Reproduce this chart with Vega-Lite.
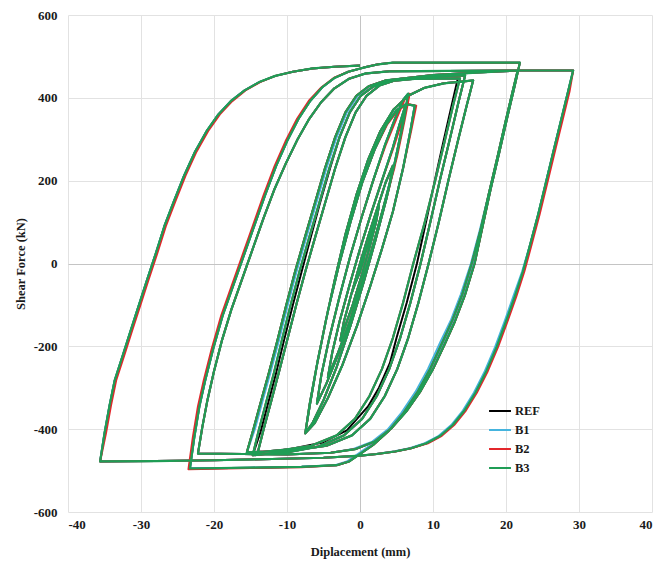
{
"$schema":"https://vega.github.io/schema/vega-lite/v6.json",
"width":584,"height":497,
"autosize":{"type":"none"},
"padding":{"left":68,"top":15,"right":7,"bottom":53},
"background":"white",
"config":{"view":{"stroke":null},"font":"Liberation Serif",
"axis":{"labelFont":"Liberation Serif","labelFontWeight":"bold","labelFontSize":13,"labelColor":"#1a1a1a","titleFont":"Liberation Serif","titleFontWeight":"bold","titleFontSize":12.5,"titleColor":"#1a1a1a","domain":false,"ticks":false,"grid":true,"gridColor":{"condition":{"test":"datum.value === 0","value":"#c4c4c4"},"value":"#e2e2e2"},"gridWidth":1,"labelExpr":"datum.value + ''"},
"legend":{"labelFont":"Liberation Serif","labelFontWeight":"bold","labelFontSize":12.5,"labelColor":"#1a1a1a"}},
"encoding":{
"x":{"field":"x","type":"quantitative","scale":{"domain":[-40,40],"nice":false},"axis":{"title":"Diplacement (mm)","values":[-40,-30,-20,-10,0,10,20,30,40],"labelPadding":6,"titlePadding":14}},
"y":{"field":"y","type":"quantitative","scale":{"domain":[-600,600],"nice":false},"axis":{"title":"Shear Force (kN)","values":[-600,-400,-200,0,200,400,600],"labelPadding":11,"titlePadding":6}},
"order":{"value":null}
},
"layer":[
{"data":{"name":"REF"},"mark":{"type":"line","strokeWidth":2,"strokeJoin":"round"},
"encoding":{"color":{"datum":"REF","type":"nominal","scale":{"domain":["REF","B1","B2","B3"],"range":["#000000","#45b4de","#e3262b","#1f9d55"]},"legend":{"title":null,"orient":"none","legendX":420,"legendY":384,"symbolType":"stroke","symbolSize":480,"symbolStrokeWidth":2,"padding":0,"rowPadding":0,"labelOffset":3}}}},
{"data":{"name":"B1"},"mark":{"type":"line","strokeWidth":2,"strokeJoin":"round"},"encoding":{"color":{"datum":"B1","type":"nominal"}}},
{"data":{"name":"B2"},"mark":{"type":"line","strokeWidth":2,"strokeJoin":"round"},"encoding":{"color":{"datum":"B2","type":"nominal"}}},
{"data":{"name":"B3"},"mark":{"type":"line","strokeWidth":2.2,"strokeJoin":"round"},"encoding":{"color":{"datum":"B3","type":"nominal"}}}
],
"datasets":{
"B3":[{"x":0,"y":0},{"x":0.5,"y":25},{"x":0.8,"y":35},{"x":0.5,"y":10},{"x":0,"y":-20},{"x":-0.7,"y":-50},{"x":-1.1,"y":-70},{"x":-0.7,"y":-45},{"x":0,"y":-10},{"x":0.7,"y":25},{"x":1.2,"y":50},{"x":1.9,"y":100},{"x":2.6,"y":140},{"x":2.2,"y":100},{"x":1.4,"y":45},{"x":0.3,"y":-25},{"x":-1,"y":-100},{"x":-2,"y":-150},{"x":-2.7,"y":-186},{"x":-2.2,"y":-140},{"x":-1.2,"y":-75},{"x":0,"y":0},{"x":1.2,"y":70},{"x":2.4,"y":135},{"x":3.5,"y":195},{"x":4.5,"y":236},{"x":4,"y":185},{"x":3,"y":115},{"x":1.6,"y":30},{"x":0.2,"y":-55},{"x":-1.4,"y":-140},{"x":-3,"y":-215},{"x":-4.4,"y":-275},{"x":-3.8,"y":-215},{"x":-2.8,"y":-140},{"x":-1.4,"y":-50},{"x":0,"y":35},{"x":1.5,"y":120},{"x":3,"y":200},{"x":4.5,"y":280},{"x":5.4,"y":335},{"x":6.2,"y":381},{"x":5.6,"y":315},{"x":4.6,"y":230},{"x":3.2,"y":135},{"x":1.8,"y":45},{"x":0.3,"y":-45},{"x":-1.3,"y":-135},{"x":-3,"y":-220},{"x":-4.6,"y":-290},{"x":-5.9,"y":-338},{"x":-5.3,"y":-270},{"x":-4.2,"y":-180},{"x":-2.8,"y":-80},{"x":-1.3,"y":20},{"x":0.2,"y":110},{"x":1.8,"y":200},{"x":3.4,"y":285},{"x":4.8,"y":350},{"x":5.9,"y":395},{"x":6.6,"y":410},{"x":6,"y":345},{"x":5,"y":260},{"x":3.6,"y":155},{"x":2.1,"y":55},{"x":0.5,"y":-45},{"x":-1.3,"y":-150},{"x":-3.2,"y":-250},{"x":-5,"y":-330},{"x":-6.5,"y":-385},{"x":-7.5,"y":-410},{"x":-6.9,"y":-340},{"x":-5.8,"y":-235},{"x":-4.4,"y":-115},{"x":-2.9,"y":-5},{"x":-1.3,"y":100},{"x":0.3,"y":195},{"x":2,"y":275},{"x":3.6,"y":335},{"x":5,"y":370},{"x":6.3,"y":385},{"x":7.5,"y":381},{"x":6.9,"y":320},{"x":5.9,"y":230},{"x":4.5,"y":125},{"x":3,"y":35},{"x":1.4,"y":-55},{"x":-0.4,"y":-150},{"x":-2.4,"y":-245},{"x":-4.4,"y":-325},{"x":-6.2,"y":-385},{"x":-7.5,"y":-410},
{"x":-6.9,"y":-345},{"x":-5.9,"y":-245},{"x":-4.7,"y":-140},{"x":-3.4,"y":-35},{"x":-2,"y":70},{"x":-0.5,"y":165},{"x":1.1,"y":250},{"x":2.8,"y":320},{"x":4.6,"y":372},{"x":6.6,"y":405},{"x":8.8,"y":424},{"x":11.5,"y":435},{"x":15.5,"y":442},
{"x":14.6,"y":380},{"x":13.4,"y":295},{"x":12.1,"y":200},{"x":10.8,"y":100},{"x":9.4,"y":0},{"x":8,"y":-95},{"x":6.6,"y":-180},{"x":5.1,"y":-255},{"x":3.4,"y":-320},{"x":1.4,"y":-375},{"x":-1.1,"y":-415},{"x":-4.6,"y":-440},{"x":-9,"y":-451},{"x":-15.5,"y":-456},
{"x":-14.6,"y":-400},{"x":-13.6,"y":-335},{"x":-12.5,"y":-265},{"x":-11.3,"y":-185},{"x":-10.1,"y":-100},{"x":-8.9,"y":-20},{"x":-7.6,"y":60},{"x":-6.2,"y":145},{"x":-4.8,"y":230},{"x":-3.4,"y":305},{"x":-2,"y":365},{"x":-0.5,"y":405},{"x":1.2,"y":428},{"x":3.5,"y":442},{"x":7,"y":449},{"x":10.5,"y":452},{"x":14.4,"y":454},
{"x":13.5,"y":390},{"x":12.3,"y":300},{"x":11,"y":205},{"x":9.7,"y":105},{"x":8.3,"y":0},{"x":6.9,"y":-95},{"x":5.5,"y":-180},{"x":4,"y":-255},{"x":2.3,"y":-320},{"x":0.3,"y":-375},{"x":-2.2,"y":-415},{"x":-5.7,"y":-442},{"x":-10,"y":-456},{"x":-14.7,"y":-463},
{"x":-13.9,"y":-405},{"x":-12.9,"y":-338},{"x":-11.8,"y":-265},{"x":-10.7,"y":-185},{"x":-9.5,"y":-100},{"x":-8.3,"y":-20},{"x":-7,"y":60},{"x":-5.6,"y":145},{"x":-4.2,"y":230},{"x":-2.8,"y":305},{"x":-1.4,"y":365},{"x":0.1,"y":405},{"x":1.8,"y":427},{"x":4,"y":440},{"x":7.5,"y":446},{"x":13.7,"y":447},
{"x":12.8,"y":385},{"x":11.6,"y":295},{"x":10.3,"y":200},{"x":8.8,"y":95},{"x":7.3,"y":0},{"x":5.9,"y":-95},{"x":4.5,"y":-180},{"x":3,"y":-255},{"x":1.3,"y":-320},{"x":-0.7,"y":-375},{"x":-3.2,"y":-415},{"x":-6.7,"y":-440},{"x":-10.5,"y":-450},{"x":-14,"y":-456},
{"x":-13.2,"y":-400},{"x":-12.2,"y":-335},{"x":-11.1,"y":-262},{"x":-9.9,"y":-180},{"x":-8.7,"y":-98},{"x":-7.5,"y":-20},{"x":-6.2,"y":60},{"x":-4.8,"y":145},{"x":-3.4,"y":230},{"x":-2,"y":305},{"x":-0.6,"y":365},{"x":0.9,"y":405},{"x":2.7,"y":430},{"x":5.5,"y":446},{"x":10,"y":455},{"x":16,"y":461},{"x":21.6,"y":466},
{"x":20.9,"y":415},{"x":19.9,"y":340},{"x":18.8,"y":255},{"x":17.6,"y":165},{"x":16.5,"y":80},{"x":15.3,"y":0},{"x":14,"y":-75},{"x":12.7,"y":-135},{"x":11.3,"y":-190},{"x":9.6,"y":-255},{"x":7.9,"y":-310},{"x":6,"y":-360},{"x":4,"y":-403},{"x":1.8,"y":-438},{"x":0,"y":-460},{"x":-1.5,"y":-478},{"x":-3.2,"y":-487},{"x":-8,"y":-491},{"x":-15,"y":-493},{"x":-23.3,"y":-495},
{"x":-22.7,"y":-420},{"x":-22,"y":-345},{"x":-21.2,"y":-282},{"x":-20.1,"y":-205},{"x":-18.8,"y":-125},{"x":-17.4,"y":-55},{"x":-16,"y":15},{"x":-14.5,"y":90},{"x":-13,"y":165},{"x":-11.5,"y":235},{"x":-10,"y":295},{"x":-8.4,"y":350},{"x":-6.8,"y":393},{"x":-5.2,"y":425},{"x":-3.5,"y":448},{"x":-1.6,"y":463},{"x":0.5,"y":473},{"x":2.5,"y":481},{"x":4.5,"y":485},{"x":12,"y":485},{"x":21.9,"y":485},
{"x":21.2,"y":430},{"x":20.2,"y":355},{"x":19.1,"y":270},{"x":17.9,"y":180},{"x":16.8,"y":90},{"x":15.7,"y":0},{"x":14.4,"y":-75},{"x":13,"y":-140},{"x":11.6,"y":-195},{"x":10,"y":-255},{"x":8.3,"y":-308},{"x":6.4,"y":-356},{"x":4.3,"y":-398},{"x":2,"y":-430},{"x":-0.6,"y":-448},{"x":-4,"y":-457},{"x":-10,"y":-461},{"x":-16,"y":-460},{"x":-22.2,"y":-459},
{"x":-21.6,"y":-395},{"x":-20.9,"y":-330},{"x":-20,"y":-260},{"x":-18.9,"y":-185},{"x":-17.6,"y":-110},{"x":-16.2,"y":-40},{"x":-14.7,"y":35},{"x":-13.2,"y":110},{"x":-11.7,"y":180},{"x":-10.2,"y":240},{"x":-8.6,"y":298},{"x":-7,"y":348},{"x":-5.3,"y":390},{"x":-3.5,"y":423},{"x":-1.5,"y":446},{"x":0.8,"y":459},{"x":4,"y":464},{"x":12,"y":465},{"x":21.5,"y":466},{"x":29.2,"y":466},
{"x":28.5,"y":415},{"x":27.6,"y":350},{"x":26.6,"y":278},{"x":25.5,"y":198},{"x":24.4,"y":118},{"x":23.3,"y":45},{"x":22.3,"y":-20},{"x":21.2,"y":-80},{"x":20,"y":-140},{"x":18.7,"y":-202},{"x":17.3,"y":-260},{"x":15.8,"y":-312},{"x":14.3,"y":-355},{"x":12.7,"y":-390},{"x":11,"y":-416},{"x":9.1,"y":-434},{"x":7,"y":-446},{"x":4.8,"y":-454},{"x":2.3,"y":-460},{"x":0,"y":-464},{"x":-5,"y":-469},{"x":-12,"y":-472},{"x":-20,"y":-475},{"x":-28,"y":-477},{"x":-35.6,"y":-478},
{"x":-35,"y":-410},{"x":-34.3,"y":-342},{"x":-33.6,"y":-282},{"x":-32.5,"y":-222},{"x":-31.4,"y":-161},{"x":-30.3,"y":-101},{"x":-29.2,"y":-41},{"x":-28,"y":23},{"x":-26.8,"y":90},{"x":-25.5,"y":150},{"x":-24.1,"y":212},{"x":-22.6,"y":270},{"x":-21,"y":320},{"x":-19.4,"y":360},{"x":-17.7,"y":392},{"x":-15.8,"y":418},{"x":-13.8,"y":438},{"x":-11.6,"y":453},{"x":-9.2,"y":463},{"x":-6.5,"y":471},{"x":-3.5,"y":475},{"x":0,"y":478}],
"REF":[{"x":0,"y":0},{"x":0.5,"y":25},{"x":0.8,"y":35},{"x":0.5,"y":10},{"x":0,"y":-20},{"x":-0.7,"y":-50},{"x":-1.1,"y":-70},{"x":-0.7,"y":-45},{"x":0,"y":-10},{"x":0.7,"y":25},{"x":1.2,"y":50},{"x":1.9,"y":100},{"x":2.6,"y":140},{"x":2.2,"y":100},{"x":1.4,"y":45},{"x":0.3,"y":-25},{"x":-1,"y":-100},{"x":-2,"y":-150},{"x":-2.7,"y":-186},{"x":-2.2,"y":-140},{"x":-1.2,"y":-75},{"x":0,"y":0},{"x":1.2,"y":70},{"x":2.4,"y":135},{"x":3.5,"y":195},{"x":4.5,"y":236},{"x":4,"y":185},{"x":3,"y":115},{"x":1.6,"y":30},{"x":0.2,"y":-55},{"x":-1.4,"y":-140},{"x":-3,"y":-215},{"x":-4.4,"y":-275},{"x":-3.8,"y":-215},{"x":-2.8,"y":-140},{"x":-1.4,"y":-50},{"x":0,"y":35},{"x":1.5,"y":120},{"x":3,"y":200},{"x":4.5,"y":280},{"x":5.4,"y":335},{"x":6.2,"y":381},{"x":5.6,"y":315},{"x":4.6,"y":230},{"x":3.2,"y":135},{"x":1.8,"y":45},{"x":0.3,"y":-45},{"x":-1.3,"y":-135},{"x":-3,"y":-220},{"x":-4.6,"y":-290},{"x":-5.9,"y":-338},{"x":-5.3,"y":-270},{"x":-4.2,"y":-180},{"x":-2.8,"y":-80},{"x":-1.3,"y":20},{"x":0.2,"y":110},{"x":1.8,"y":200},{"x":3.4,"y":285},{"x":4.8,"y":350},{"x":5.9,"y":395},{"x":6.6,"y":410},{"x":6,"y":345},{"x":5,"y":260},{"x":3.6,"y":155},{"x":2.1,"y":55},{"x":0.5,"y":-45},{"x":-1.3,"y":-150},{"x":-3.2,"y":-250},{"x":-5,"y":-330},{"x":-6.5,"y":-385},{"x":-7.5,"y":-410},{"x":-6.9,"y":-340},{"x":-5.8,"y":-235},{"x":-4.4,"y":-115},{"x":-2.9,"y":-5},{"x":-1.3,"y":100},{"x":0.3,"y":195},{"x":2,"y":275},{"x":3.6,"y":335},{"x":5,"y":370},{"x":6.3,"y":385},{"x":7.5,"y":381},{"x":6.9,"y":320},{"x":5.9,"y":230},{"x":4.5,"y":125},{"x":3,"y":35},{"x":1.4,"y":-55},{"x":-0.4,"y":-150},{"x":-2.4,"y":-245},{"x":-4.4,"y":-325},{"x":-6.2,"y":-385},{"x":-7.5,"y":-410},
{"x":-6.9,"y":-345},{"x":-5.9,"y":-245},{"x":-4.7,"y":-140},{"x":-3.4,"y":-35},{"x":-2,"y":70},{"x":-0.5,"y":165},{"x":1.1,"y":250},{"x":2.8,"y":320},{"x":4.6,"y":372},{"x":6.6,"y":405},{"x":8.8,"y":424},{"x":11.5,"y":435},{"x":15.5,"y":442},
{"x":14.6,"y":380},{"x":13.4,"y":295},{"x":12.1,"y":200},{"x":10.8,"y":100},{"x":9.4,"y":0},{"x":8,"y":-95},{"x":6.6,"y":-180},{"x":5.1,"y":-255},{"x":3.4,"y":-320},{"x":1.4,"y":-375},{"x":-1.1,"y":-415},{"x":-4.6,"y":-440},{"x":-9,"y":-451},{"x":-15.5,"y":-456},
{"x":-14.6,"y":-400},{"x":-13.6,"y":-335},{"x":-12.5,"y":-265},{"x":-11.3,"y":-185},{"x":-10.1,"y":-100},{"x":-8.9,"y":-20},{"x":-7.6,"y":60},{"x":-6.2,"y":145},{"x":-4.8,"y":230},{"x":-3.4,"y":305},{"x":-2,"y":365},{"x":-0.5,"y":405},{"x":1.2,"y":428},{"x":3.5,"y":442},{"x":7,"y":449},{"x":10.5,"y":452},{"x":14.4,"y":454},
{"x":13.5,"y":390},{"x":12.3,"y":300},{"x":11,"y":205},{"x":9.7,"y":105},{"x":8.3,"y":0},{"x":6.9,"y":-95},{"x":5.5,"y":-180},{"x":4,"y":-255},{"x":2.3,"y":-320},{"x":0.3,"y":-375},{"x":-2.2,"y":-415},{"x":-5.7,"y":-442},{"x":-10,"y":-456},{"x":-14.7,"y":-463},
{"x":-13.6,"y":-405},{"x":-12.6,"y":-338},{"x":-11.5,"y":-265},{"x":-10.4,"y":-185},{"x":-9.2,"y":-100},{"x":-8,"y":-20},{"x":-6.8,"y":60},{"x":-5.5,"y":145},{"x":-4.1,"y":230},{"x":-2.8,"y":305},{"x":-1.4,"y":365},{"x":0.1,"y":405},{"x":1.8,"y":427},{"x":4,"y":440},{"x":7.5,"y":446},{"x":13.4,"y":447},
{"x":12.6,"y":385},{"x":11.5,"y":300},{"x":10.3,"y":205},{"x":9.1,"y":105},{"x":7.8,"y":0},{"x":6.4,"y":-95},{"x":5,"y":-180},{"x":4.1,"y":-240},{"x":2.6,"y":-300},{"x":1.1,"y":-345},{"x":-1.8,"y":-403},{"x":-5.1,"y":-432},{"x":-9.5,"y":-448},{"x":-14,"y":-456},
{"x":-13.2,"y":-400},{"x":-12.2,"y":-335},{"x":-11.1,"y":-262},{"x":-9.9,"y":-180},{"x":-8.7,"y":-98},{"x":-7.5,"y":-20},{"x":-6.2,"y":60},{"x":-4.8,"y":145},{"x":-3.4,"y":230},{"x":-2,"y":305},{"x":-0.6,"y":365},{"x":0.9,"y":405},{"x":2.7,"y":430},{"x":5.5,"y":446},{"x":10,"y":455},{"x":16,"y":461},{"x":21.6,"y":466},
{"x":20.9,"y":415},{"x":19.9,"y":340},{"x":18.8,"y":255},{"x":17.6,"y":165},{"x":16.5,"y":80},{"x":15.3,"y":0},{"x":14,"y":-75},{"x":12.7,"y":-135},{"x":11.3,"y":-190},{"x":9.6,"y":-255},{"x":7.9,"y":-310},{"x":6,"y":-360},{"x":4,"y":-403},{"x":1.8,"y":-438},{"x":0,"y":-460},{"x":-1.5,"y":-478},{"x":-3.2,"y":-487},{"x":-8,"y":-491},{"x":-15,"y":-493},{"x":-23.3,"y":-495},
{"x":-22.7,"y":-420},{"x":-22,"y":-345},{"x":-21.2,"y":-282},{"x":-20.1,"y":-205},{"x":-18.8,"y":-125},{"x":-17.4,"y":-55},{"x":-16,"y":15},{"x":-14.5,"y":90},{"x":-13,"y":165},{"x":-11.5,"y":235},{"x":-10,"y":295},{"x":-8.4,"y":350},{"x":-6.8,"y":393},{"x":-5.2,"y":425},{"x":-3.5,"y":448},{"x":-1.6,"y":463},{"x":0.5,"y":473},{"x":2.5,"y":481},{"x":4.5,"y":485},{"x":12,"y":485},{"x":21.9,"y":485},
{"x":21.2,"y":430},{"x":20.2,"y":355},{"x":19.1,"y":270},{"x":17.9,"y":180},{"x":16.8,"y":90},{"x":15.7,"y":0},{"x":14.4,"y":-75},{"x":13,"y":-140},{"x":11.6,"y":-195},{"x":10,"y":-255},{"x":8.3,"y":-308},{"x":6.4,"y":-356},{"x":4.3,"y":-398},{"x":2,"y":-430},{"x":-0.6,"y":-448},{"x":-4,"y":-457},{"x":-10,"y":-461},{"x":-16,"y":-460},{"x":-22.2,"y":-459},
{"x":-21.6,"y":-395},{"x":-20.9,"y":-330},{"x":-20,"y":-260},{"x":-18.9,"y":-185},{"x":-17.6,"y":-110},{"x":-16.2,"y":-40},{"x":-14.7,"y":35},{"x":-13.2,"y":110},{"x":-11.7,"y":180},{"x":-10.2,"y":240},{"x":-8.6,"y":298},{"x":-7,"y":348},{"x":-5.3,"y":390},{"x":-3.5,"y":423},{"x":-1.5,"y":446},{"x":0.8,"y":459},{"x":4,"y":464},{"x":12,"y":465},{"x":21.5,"y":466},{"x":29.2,"y":466},
{"x":28.5,"y":415},{"x":27.6,"y":350},{"x":26.6,"y":278},{"x":25.5,"y":198},{"x":24.4,"y":118},{"x":23.3,"y":45},{"x":22.3,"y":-20},{"x":21.2,"y":-80},{"x":20,"y":-140},{"x":18.7,"y":-202},{"x":17.3,"y":-260},{"x":15.8,"y":-312},{"x":14.3,"y":-355},{"x":12.7,"y":-390},{"x":11,"y":-416},{"x":9.1,"y":-434},{"x":7,"y":-446},{"x":4.8,"y":-454},{"x":2.3,"y":-460},{"x":0,"y":-464},{"x":-5,"y":-469},{"x":-12,"y":-472},{"x":-20,"y":-475},{"x":-28,"y":-477},{"x":-35.6,"y":-478},
{"x":-35,"y":-410},{"x":-34.3,"y":-342},{"x":-33.6,"y":-282},{"x":-32.5,"y":-222},{"x":-31.4,"y":-161},{"x":-30.3,"y":-101},{"x":-29.2,"y":-41},{"x":-28,"y":23},{"x":-26.8,"y":90},{"x":-25.5,"y":150},{"x":-24.1,"y":212},{"x":-22.6,"y":270},{"x":-21,"y":320},{"x":-19.4,"y":360},{"x":-17.7,"y":392},{"x":-15.8,"y":418},{"x":-13.8,"y":438},{"x":-11.6,"y":453},{"x":-9.2,"y":463},{"x":-6.5,"y":471},{"x":-3.5,"y":475},{"x":0,"y":478}],
"B1":[{"x":0,"y":0},{"x":0.5,"y":25},{"x":0.8,"y":35},{"x":0.5,"y":10},{"x":0,"y":-20},{"x":-0.7,"y":-50},{"x":-1.1,"y":-70},{"x":-0.7,"y":-45},{"x":0,"y":-10},{"x":0.7,"y":25},{"x":1.2,"y":50},{"x":1.9,"y":100},{"x":2.6,"y":140},{"x":2.2,"y":100},{"x":1.4,"y":45},{"x":0.3,"y":-25},{"x":-1,"y":-100},{"x":-2,"y":-150},{"x":-2.7,"y":-186},{"x":-2.2,"y":-140},{"x":-1.2,"y":-75},{"x":0,"y":0},{"x":1.2,"y":70},{"x":2.4,"y":135},{"x":3.5,"y":195},{"x":4.5,"y":236},{"x":4,"y":185},{"x":3,"y":115},{"x":1.6,"y":30},{"x":0.2,"y":-55},{"x":-1.4,"y":-140},{"x":-3,"y":-215},{"x":-4.4,"y":-275},{"x":-3.8,"y":-215},{"x":-2.8,"y":-140},{"x":-1.4,"y":-50},{"x":0,"y":35},{"x":1.5,"y":120},{"x":3,"y":200},{"x":4.5,"y":280},{"x":5.4,"y":335},{"x":6.2,"y":381},{"x":5.6,"y":315},{"x":4.6,"y":230},{"x":3.2,"y":135},{"x":1.8,"y":45},{"x":0.3,"y":-45},{"x":-1.3,"y":-135},{"x":-3,"y":-220},{"x":-4.6,"y":-290},{"x":-5.9,"y":-338},{"x":-5.3,"y":-270},{"x":-4.2,"y":-180},{"x":-2.8,"y":-80},{"x":-1.3,"y":20},{"x":0.2,"y":110},{"x":1.8,"y":200},{"x":3.4,"y":285},{"x":4.8,"y":350},{"x":5.9,"y":395},{"x":6.6,"y":410},{"x":6,"y":345},{"x":5,"y":260},{"x":3.6,"y":155},{"x":2.1,"y":55},{"x":0.5,"y":-45},{"x":-1.3,"y":-150},{"x":-3.2,"y":-250},{"x":-5,"y":-330},{"x":-6.5,"y":-385},{"x":-7.5,"y":-410},{"x":-6.9,"y":-340},{"x":-5.8,"y":-235},{"x":-4.4,"y":-115},{"x":-2.9,"y":-5},{"x":-1.3,"y":100},{"x":0.3,"y":195},{"x":2,"y":275},{"x":3.6,"y":335},{"x":5,"y":370},{"x":6.3,"y":385},{"x":7.5,"y":381},{"x":6.9,"y":320},{"x":5.9,"y":230},{"x":4.5,"y":125},{"x":3,"y":35},{"x":1.4,"y":-55},{"x":-0.4,"y":-150},{"x":-2.4,"y":-245},{"x":-4.4,"y":-325},{"x":-6.2,"y":-385},{"x":-7.5,"y":-410},
{"x":-6.9,"y":-345},{"x":-5.9,"y":-245},{"x":-4.7,"y":-140},{"x":-3.4,"y":-35},{"x":-2,"y":70},{"x":-0.5,"y":165},{"x":1.1,"y":250},{"x":2.8,"y":320},{"x":4.6,"y":372},{"x":6.6,"y":405},{"x":8.8,"y":424},{"x":11.5,"y":435},{"x":15.5,"y":442},
{"x":14.6,"y":380},{"x":13.4,"y":295},{"x":12.1,"y":200},{"x":10.8,"y":100},{"x":9.4,"y":0},{"x":8,"y":-95},{"x":6.6,"y":-180},{"x":5.1,"y":-255},{"x":3.4,"y":-320},{"x":1.4,"y":-375},{"x":-1.1,"y":-415},{"x":-4.6,"y":-440},{"x":-9,"y":-451},{"x":-15.5,"y":-456},
{"x":-14.4,"y":-400},{"x":-13.4,"y":-335},{"x":-12.3,"y":-265},{"x":-11.1,"y":-185},{"x":-9.9,"y":-100},{"x":-8.7,"y":-20},{"x":-7.4,"y":60},{"x":-6,"y":145},{"x":-4.6,"y":230},{"x":-3.2,"y":305},{"x":-1.8,"y":365},{"x":-0.3,"y":405},{"x":1.3,"y":428},{"x":3.5,"y":442},{"x":7,"y":449},{"x":10.5,"y":452},{"x":14.4,"y":454},
{"x":13.5,"y":390},{"x":12.3,"y":300},{"x":11,"y":205},{"x":9.7,"y":105},{"x":8.3,"y":0},{"x":6.9,"y":-95},{"x":5.5,"y":-180},{"x":4,"y":-255},{"x":2.3,"y":-320},{"x":0.3,"y":-375},{"x":-2.2,"y":-415},{"x":-5.7,"y":-442},{"x":-10,"y":-456},{"x":-14.7,"y":-463},
{"x":-13.9,"y":-405},{"x":-12.9,"y":-338},{"x":-11.8,"y":-265},{"x":-10.7,"y":-185},{"x":-9.5,"y":-100},{"x":-8.3,"y":-20},{"x":-7,"y":60},{"x":-5.6,"y":145},{"x":-4.2,"y":230},{"x":-2.8,"y":305},{"x":-1.4,"y":365},{"x":0.1,"y":405},{"x":1.8,"y":427},{"x":4,"y":440},{"x":7.5,"y":446},{"x":13.7,"y":447},
{"x":12.8,"y":385},{"x":11.6,"y":295},{"x":10.3,"y":200},{"x":8.8,"y":95},{"x":7.3,"y":0},{"x":5.9,"y":-95},{"x":4.5,"y":-180},{"x":3,"y":-255},{"x":1.3,"y":-320},{"x":-0.7,"y":-375},{"x":-3.2,"y":-415},{"x":-6.7,"y":-440},{"x":-10.5,"y":-450},{"x":-14,"y":-456},
{"x":-13.2,"y":-400},{"x":-12.2,"y":-335},{"x":-11.1,"y":-262},{"x":-9.9,"y":-180},{"x":-8.7,"y":-98},{"x":-7.5,"y":-20},{"x":-6.2,"y":60},{"x":-4.8,"y":145},{"x":-3.4,"y":230},{"x":-2,"y":305},{"x":-0.6,"y":365},{"x":0.9,"y":405},{"x":2.7,"y":430},{"x":5.5,"y":446},{"x":10,"y":455},{"x":16,"y":461},{"x":21.6,"y":466},
{"x":20.9,"y":415},{"x":19.9,"y":340},{"x":18.8,"y":255},{"x":17.6,"y":165},{"x":16.4,"y":80},{"x":15.2,"y":0},{"x":13.8,"y":-75},{"x":12.5,"y":-135},{"x":11,"y":-190},{"x":9.3,"y":-255},{"x":7.6,"y":-310},{"x":5.7,"y":-360},{"x":3.7,"y":-403},{"x":1.5,"y":-438},{"x":-0.3,"y":-460},{"x":-1.8,"y":-478},{"x":-3.4,"y":-487},{"x":-8,"y":-491},{"x":-15,"y":-493},{"x":-23.3,"y":-495},
{"x":-22.7,"y":-420},{"x":-22,"y":-345},{"x":-21.2,"y":-282},{"x":-20.1,"y":-205},{"x":-18.8,"y":-125},{"x":-17.4,"y":-55},{"x":-16,"y":15},{"x":-14.5,"y":90},{"x":-13,"y":165},{"x":-11.5,"y":235},{"x":-10,"y":295},{"x":-8.4,"y":350},{"x":-6.8,"y":393},{"x":-5.2,"y":425},{"x":-3.5,"y":448},{"x":-1.6,"y":463},{"x":0.5,"y":473},{"x":2.5,"y":481},{"x":4.5,"y":485},{"x":12,"y":485},{"x":21.9,"y":485},
{"x":21.2,"y":430},{"x":20.2,"y":355},{"x":19.1,"y":270},{"x":17.9,"y":180},{"x":16.7,"y":90},{"x":15.5,"y":0},{"x":14.1,"y":-75},{"x":12.7,"y":-140},{"x":11.3,"y":-195},{"x":9.7,"y":-255},{"x":8,"y":-308},{"x":6.1,"y":-356},{"x":4,"y":-398},{"x":1.7,"y":-430},{"x":-0.9,"y":-448},{"x":-4,"y":-457},{"x":-10,"y":-461},{"x":-16,"y":-460},{"x":-22.2,"y":-459},
{"x":-21.6,"y":-395},{"x":-20.9,"y":-330},{"x":-20,"y":-260},{"x":-18.9,"y":-185},{"x":-17.6,"y":-110},{"x":-16.2,"y":-40},{"x":-14.7,"y":35},{"x":-13.2,"y":110},{"x":-11.7,"y":180},{"x":-10.2,"y":240},{"x":-8.6,"y":298},{"x":-7,"y":348},{"x":-5.3,"y":390},{"x":-3.5,"y":423},{"x":-1.5,"y":446},{"x":0.8,"y":459},{"x":4,"y":464},{"x":12,"y":465},{"x":21.5,"y":466},{"x":29.2,"y":466},
{"x":28.5,"y":415},{"x":27.6,"y":350},{"x":26.6,"y":278},{"x":25.5,"y":198},{"x":24.4,"y":118},{"x":23.3,"y":45},{"x":22.2,"y":-20},{"x":21,"y":-80},{"x":19.8,"y":-140},{"x":18.5,"y":-202},{"x":17.1,"y":-260},{"x":15.6,"y":-312},{"x":14.1,"y":-355},{"x":12.5,"y":-390},{"x":10.8,"y":-416},{"x":8.9,"y":-434},{"x":6.8,"y":-446},{"x":4.6,"y":-454},{"x":2.2,"y":-460},{"x":0,"y":-464},{"x":-5,"y":-469},{"x":-12,"y":-472},{"x":-20,"y":-475},{"x":-28,"y":-477},{"x":-35.6,"y":-478},
{"x":-35,"y":-410},{"x":-34.3,"y":-342},{"x":-33.6,"y":-282},{"x":-32.5,"y":-222},{"x":-31.4,"y":-161},{"x":-30.3,"y":-101},{"x":-29.2,"y":-41},{"x":-28,"y":23},{"x":-26.8,"y":90},{"x":-25.5,"y":150},{"x":-24.1,"y":212},{"x":-22.6,"y":270},{"x":-21,"y":320},{"x":-19.4,"y":360},{"x":-17.7,"y":392},{"x":-15.8,"y":418},{"x":-13.8,"y":438},{"x":-11.6,"y":453},{"x":-9.2,"y":463},{"x":-6.5,"y":471},{"x":-3.5,"y":475},{"x":0,"y":478}],
"B2":[{"x":0,"y":0},{"x":0.5,"y":25},{"x":0.8,"y":35},{"x":0.5,"y":10},{"x":0,"y":-20},{"x":-0.7,"y":-50},{"x":-1.1,"y":-70},{"x":-0.7,"y":-45},{"x":0,"y":-10},{"x":0.7,"y":25},{"x":1.2,"y":50},{"x":1.9,"y":100},{"x":2.6,"y":140},{"x":2.2,"y":100},{"x":1.4,"y":45},{"x":0.3,"y":-25},{"x":-1,"y":-100},{"x":-2,"y":-150},{"x":-2.7,"y":-186},{"x":-2.2,"y":-140},{"x":-1.2,"y":-75},{"x":0,"y":0},{"x":1.2,"y":70},{"x":2.4,"y":135},{"x":3.5,"y":195},{"x":4.5,"y":236},{"x":4,"y":185},{"x":3,"y":115},{"x":1.6,"y":30},{"x":0.2,"y":-55},{"x":-1.4,"y":-140},{"x":-3,"y":-215},{"x":-4.4,"y":-275},{"x":-3.8,"y":-215},{"x":-2.8,"y":-140},{"x":-1.4,"y":-50},{"x":0,"y":35},{"x":1.5,"y":120},{"x":3,"y":200},{"x":4.6,"y":280},{"x":5.6,"y":335},{"x":6.4,"y":381},{"x":5.7,"y":315},{"x":4.7,"y":230},{"x":3.2,"y":135},{"x":1.8,"y":45},{"x":0.3,"y":-45},{"x":-1.3,"y":-135},{"x":-3,"y":-220},{"x":-4.6,"y":-290},{"x":-5.9,"y":-338},{"x":-5.3,"y":-270},{"x":-4.2,"y":-180},{"x":-2.8,"y":-80},{"x":-1.3,"y":20},{"x":0.2,"y":110},{"x":1.8,"y":200},{"x":3.5,"y":285},{"x":5,"y":350},{"x":6.1,"y":395},{"x":6.8,"y":410},{"x":6.1,"y":345},{"x":5.1,"y":260},{"x":3.6,"y":155},{"x":2.1,"y":55},{"x":0.5,"y":-45},{"x":-1.3,"y":-150},{"x":-3.2,"y":-250},{"x":-5,"y":-330},{"x":-6.5,"y":-385},{"x":-7.5,"y":-410},{"x":-6.9,"y":-340},{"x":-5.8,"y":-235},{"x":-4.4,"y":-115},{"x":-2.9,"y":-5},{"x":-1.3,"y":100},{"x":0.3,"y":195},{"x":2,"y":275},{"x":3.7,"y":335},{"x":5.2,"y":370},{"x":6.5,"y":385},{"x":7.7,"y":381},{"x":7,"y":320},{"x":5.9,"y":230},{"x":4.5,"y":125},{"x":3,"y":35},{"x":1.4,"y":-55},{"x":-0.4,"y":-150},{"x":-2.4,"y":-245},{"x":-4.4,"y":-325},{"x":-6.2,"y":-385},{"x":-7.5,"y":-410},
{"x":-6.9,"y":-345},{"x":-5.9,"y":-245},{"x":-4.7,"y":-140},{"x":-3.4,"y":-35},{"x":-2,"y":70},{"x":-0.5,"y":165},{"x":1.1,"y":250},{"x":2.8,"y":320},{"x":4.6,"y":372},{"x":6.6,"y":405},{"x":8.8,"y":424},{"x":11.5,"y":435},{"x":15.5,"y":442},
{"x":14.6,"y":380},{"x":13.4,"y":295},{"x":12.1,"y":200},{"x":10.8,"y":100},{"x":9.4,"y":0},{"x":8,"y":-95},{"x":6.6,"y":-180},{"x":5.1,"y":-255},{"x":3.4,"y":-320},{"x":1.4,"y":-375},{"x":-1.1,"y":-415},{"x":-4.6,"y":-440},{"x":-9,"y":-451},{"x":-15.5,"y":-456},
{"x":-14.6,"y":-400},{"x":-13.6,"y":-335},{"x":-12.5,"y":-265},{"x":-11.3,"y":-185},{"x":-10.1,"y":-100},{"x":-8.9,"y":-20},{"x":-7.6,"y":60},{"x":-6.2,"y":145},{"x":-4.8,"y":230},{"x":-3.4,"y":305},{"x":-2,"y":365},{"x":-0.5,"y":405},{"x":1.2,"y":428},{"x":3.5,"y":442},{"x":7,"y":449},{"x":10.5,"y":452},{"x":14.4,"y":454},
{"x":13.5,"y":390},{"x":12.3,"y":300},{"x":11,"y":205},{"x":9.7,"y":105},{"x":8.3,"y":0},{"x":6.9,"y":-95},{"x":5.5,"y":-180},{"x":4,"y":-255},{"x":2.3,"y":-320},{"x":0.3,"y":-375},{"x":-2.2,"y":-415},{"x":-5.7,"y":-442},{"x":-10,"y":-456},{"x":-14.7,"y":-463},
{"x":-13.9,"y":-405},{"x":-12.9,"y":-338},{"x":-11.8,"y":-265},{"x":-10.7,"y":-185},{"x":-9.5,"y":-100},{"x":-8.3,"y":-20},{"x":-7,"y":60},{"x":-5.6,"y":145},{"x":-4.2,"y":230},{"x":-2.8,"y":305},{"x":-1.4,"y":365},{"x":0.1,"y":405},{"x":1.8,"y":427},{"x":4,"y":440},{"x":7.5,"y":446},{"x":13.7,"y":447},
{"x":12.8,"y":385},{"x":11.6,"y":295},{"x":10.3,"y":200},{"x":8.8,"y":95},{"x":7.3,"y":0},{"x":5.9,"y":-95},{"x":4.5,"y":-180},{"x":3,"y":-255},{"x":1.3,"y":-320},{"x":-0.7,"y":-375},{"x":-3.2,"y":-415},{"x":-6.7,"y":-440},{"x":-10.5,"y":-450},{"x":-14,"y":-456},
{"x":-13.2,"y":-400},{"x":-12.2,"y":-335},{"x":-11.1,"y":-262},{"x":-9.9,"y":-180},{"x":-8.7,"y":-98},{"x":-7.5,"y":-20},{"x":-6.2,"y":60},{"x":-4.8,"y":145},{"x":-3.4,"y":230},{"x":-2,"y":305},{"x":-0.6,"y":365},{"x":0.9,"y":405},{"x":2.7,"y":430},{"x":5.5,"y":446},{"x":10,"y":455},{"x":16,"y":461},{"x":21.6,"y":466},
{"x":20.9,"y":415},{"x":19.9,"y":340},{"x":18.8,"y":255},{"x":17.6,"y":165},{"x":16.5,"y":80},{"x":15.3,"y":0},{"x":14,"y":-75},{"x":12.7,"y":-135},{"x":11.3,"y":-190},{"x":9.6,"y":-255},{"x":7.9,"y":-310},{"x":6,"y":-360},{"x":4,"y":-403},{"x":1.8,"y":-438},{"x":0,"y":-460},{"x":-1.5,"y":-478},{"x":-3.2,"y":-487},{"x":-8,"y":-492},{"x":-15,"y":-494},{"x":-23.5,"y":-497},
{"x":-22.9,"y":-420},{"x":-22.2,"y":-345},{"x":-21.4,"y":-282},{"x":-20.3,"y":-205},{"x":-19,"y":-125},{"x":-17.6,"y":-55},{"x":-16.2,"y":15},{"x":-14.7,"y":90},{"x":-13.2,"y":165},{"x":-11.7,"y":235},{"x":-10.2,"y":295},{"x":-8.6,"y":350},{"x":-7,"y":393},{"x":-5.3,"y":425},{"x":-3.6,"y":448},{"x":-1.6,"y":463},{"x":0.5,"y":473},{"x":2.5,"y":481},{"x":4.5,"y":485},{"x":12,"y":485},{"x":21.9,"y":485},
{"x":21.2,"y":430},{"x":20.2,"y":355},{"x":19.1,"y":270},{"x":17.9,"y":180},{"x":16.8,"y":90},{"x":15.7,"y":0},{"x":14.4,"y":-75},{"x":13,"y":-140},{"x":11.6,"y":-195},{"x":10,"y":-255},{"x":8.3,"y":-308},{"x":6.4,"y":-356},{"x":4.3,"y":-398},{"x":2,"y":-430},{"x":-0.6,"y":-448},{"x":-4,"y":-457},{"x":-10,"y":-461},{"x":-16,"y":-460},{"x":-22.2,"y":-459},
{"x":-21.6,"y":-395},{"x":-20.9,"y":-330},{"x":-20,"y":-260},{"x":-18.9,"y":-185},{"x":-17.6,"y":-110},{"x":-16.2,"y":-40},{"x":-14.7,"y":35},{"x":-13.2,"y":110},{"x":-11.7,"y":180},{"x":-10.2,"y":240},{"x":-8.6,"y":298},{"x":-7,"y":348},{"x":-5.3,"y":390},{"x":-3.5,"y":423},{"x":-1.5,"y":446},{"x":0.8,"y":459},{"x":4,"y":464},{"x":12,"y":465},{"x":21.5,"y":466},{"x":29.2,"y":466},
{"x":28.7,"y":415},{"x":27.8,"y":350},{"x":26.8,"y":278},{"x":25.7,"y":198},{"x":24.6,"y":118},{"x":23.5,"y":45},{"x":22.5,"y":-20},{"x":21.4,"y":-80},{"x":20.2,"y":-140},{"x":18.9,"y":-202},{"x":17.5,"y":-260},{"x":16,"y":-312},{"x":14.5,"y":-355},{"x":12.9,"y":-390},{"x":11.2,"y":-416},{"x":9.3,"y":-434},{"x":7,"y":-446},{"x":4.8,"y":-454},{"x":2.3,"y":-460},{"x":0,"y":-464},{"x":-5,"y":-469},{"x":-12,"y":-472},{"x":-20,"y":-475},{"x":-28,"y":-477},{"x":-35.6,"y":-478},
{"x":-34.8,"y":-410},{"x":-34.1,"y":-342},{"x":-33.4,"y":-282},{"x":-32.3,"y":-222},{"x":-31.2,"y":-161},{"x":-30.1,"y":-101},{"x":-29,"y":-41},{"x":-27.8,"y":23},{"x":-26.6,"y":90},{"x":-25.3,"y":150},{"x":-23.9,"y":212},{"x":-22.4,"y":270},{"x":-20.8,"y":320},{"x":-19.2,"y":360},{"x":-17.5,"y":392},{"x":-15.7,"y":418},{"x":-13.7,"y":438},{"x":-11.6,"y":453},{"x":-9.2,"y":463},{"x":-6.5,"y":471},{"x":-3.5,"y":475},{"x":0,"y":478}]
}
}
